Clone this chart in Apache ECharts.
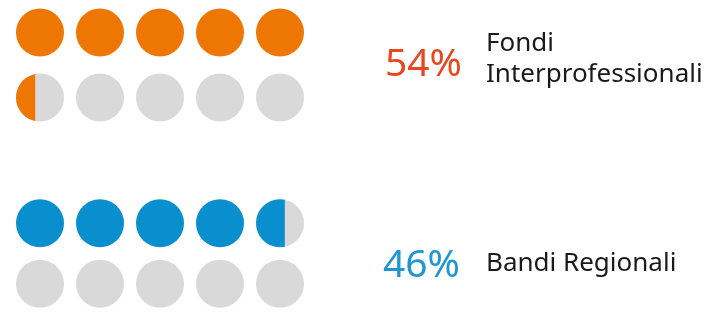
<!DOCTYPE html>
<html>
<head>
<meta charset="utf-8">
<script src="https://cdn.jsdelivr.net/npm/echarts@6/dist/echarts.min.js"></script>
<style>
  html, body { margin: 0; padding: 0; background: #fff; }
  #chart { width: 727px; height: 314px; }
</style>
</head>
<body>
<div id="chart"></div>
<script>
// one dot = 10%
const percents = [54, 46];
const pctLabels = ['54%', '46%'];
const groupNames = ['Fondi\nInterprofessionali', 'Bandi Regionali'];
const dotColors = ['#EE7602', '#0A8FCE'];
const pctColors = ['#E8481D', '#1E96D4'];
const grey = '#D9D9D9';

const chart = echarts.init(document.getElementById('chart'));

function dotsFor(pct) {
  const out = [];
  for (let k = 0; k < 10; k++) {
    const f = Math.max(0, Math.min(1, (pct - k * 10) / 10));
    out.push([k % 5, Math.floor(k / 5), f]);
  }
  return out;
}

function makeRender(color) {
  return function (params, api) {
    const c = api.coord([api.value(0), api.value(1)]);
    const r = api.size([1, 0])[0] * 0.4;
    const f = api.value(2);
    const kids = [{ type: 'circle', shape: { cx: c[0], cy: c[1], r: r }, style: { fill: f >= 1 ? color : grey } }];
    if (f > 0 && f < 1) {
      const xc = c[0] - r + f * 2 * r;
      const dx = xc - c[0];
      const dy = Math.sqrt(r * r - dx * dx);
      const large = f > 0.5 ? 1 : 0;
      const d = 'M' + xc + ' ' + (c[1] - dy) + ' A' + r + ' ' + r + ' 0 ' + large + ' 0 ' + xc + ' ' + (c[1] + dy) + ' Z';
      kids.push({ type: 'path', shape: { pathData: d }, style: { fill: color } });
    }
    return { type: 'group', children: kids };
  };
}

const grids = [
  { left: 10, top: -2, width: 300, height: 132 },
  { left: 10, top: 193, width: 300, height: 132 }
];

const option = {
  animation: false,
  grid: grids,
  xAxis: grids.map((g, i) => ({ type: 'value', gridIndex: i, min: -0.5, max: 4.5, show: false })),
  yAxis: grids.map((g, i) => ({ type: 'value', gridIndex: i, min: -0.5, max: 1.5, inverse: true, show: false })),
  series: percents.map((p, i) => ({
    type: 'custom',
    xAxisIndex: i,
    yAxisIndex: i,
    clip: false,
    renderItem: makeRender(dotColors[i]),
    data: dotsFor(p)
  })),
  graphic: [
    { type: 'text', left: 385, top: 45, style: { text: pctLabels[0], font: '39px "Noto Sans"', fill: pctColors[0] } },
    { type: 'text', left: 486, top: 28, style: { text: groupNames[0], font: '26px "Noto Sans"', fill: '#1a1a1a', lineHeight: 31 } },
    { type: 'text', left: 383, top: 246, style: { text: pctLabels[1], font: '39px "Noto Sans"', fill: pctColors[1] } },
    { type: 'text', left: 486, top: 248, style: { text: groupNames[1], font: '26px "Noto Sans"', fill: '#1a1a1a', lineHeight: 31 } }
  ]
};

chart.setOption(option);
</script>
</body>
</html>
